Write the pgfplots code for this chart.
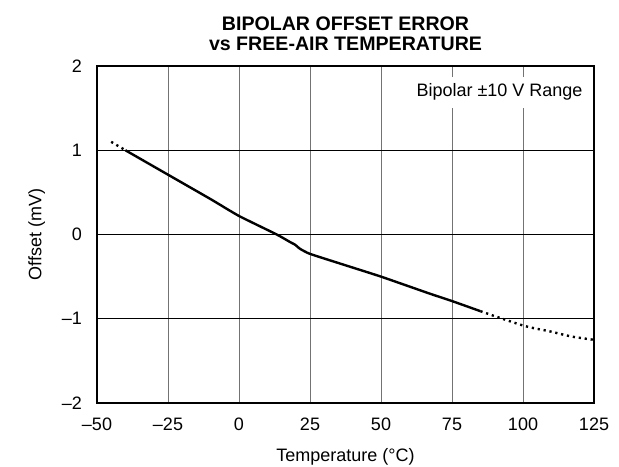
\documentclass[border=0pt]{standalone}
\usepackage{fontspec}
\setmainfont{Liberation Sans}
\usepackage{pgfplots}
\pgfplotsset{compat=1.18}
\begin{document}
\begin{tikzpicture}
\begin{axis}[name=ax, scale only axis, width=248.5pt, height=168.5pt,
  xmin=-50, xmax=125, ymin=-2, ymax=2,
  xtick={-50,-25,0,25,50,75,100,125},
  xticklabels={–50,–25,0,25,50,75,100,125},
  ytick={-2,-1,0,1,2},
  yticklabels={–2,–1,0,1,2},
  grid=major, major tick length=0pt,
  axis line style={line width=1.1pt},
  x grid style={black!55, line width=0.5pt},
  y grid style={black, line width=0.5pt},
  tick label style={font=\fontsize{9}{11}\selectfont},
  xticklabel style={yshift=-4pt},
  yticklabel style={xshift=-4pt},
  label style={font=\fontsize{9}{11}\selectfont},
  xlabel={Temperature (°C)},
  ylabel={Offset (mV)},
  xlabel style={yshift=-2pt},
  ylabel style={yshift=1.5pt},
  title={BIPOLAR OFFSET ERROR\\vs FREE-AIR TEMPERATURE},
  title style={font=\bfseries\fontsize{9.8}{10.2}\selectfont, align=center, yshift=-2pt},
]
\addplot[black, line width=1.2pt, dash pattern=on 1.1pt off 1.9pt, line cap=butt] coordinates {
  (-45,1.10) (-40,1.00)
};
\addplot[black, line width=1.2pt, smooth, tension=0.3] coordinates {
  (-40,1.00) (-25,0.71) (-10,0.42) (0,0.22) (13.3,0.0) (18,-0.09) (19.7,-0.12) (21.5,-0.17) (25,-0.23) (37,-0.36) (50,-0.50) (67,-0.70) (75,-0.79) (85,-0.91)
};
\addplot[black, line width=1.2pt, dash pattern=on 1.1pt off 1.9pt, smooth] coordinates {
  (85,-0.91) (100,-1.08) (109.5,-1.15) (117,-1.21) (125,-1.25)
};
\node[anchor=east, fill=white, inner xsep=2pt, inner ysep=3.5pt, font=\fontsize{9}{11}\selectfont] at (axis cs:122.5,1.69) {Bipolar ±10 V Range};
\end{axis}
\pgfresetboundingbox
\path[use as bounding box] (ax.south west) ++(-48.5pt,-31.5pt) rectangle ([xshift=12.5pt,yshift=33pt]ax.north east);
\end{tikzpicture}
\end{document}
